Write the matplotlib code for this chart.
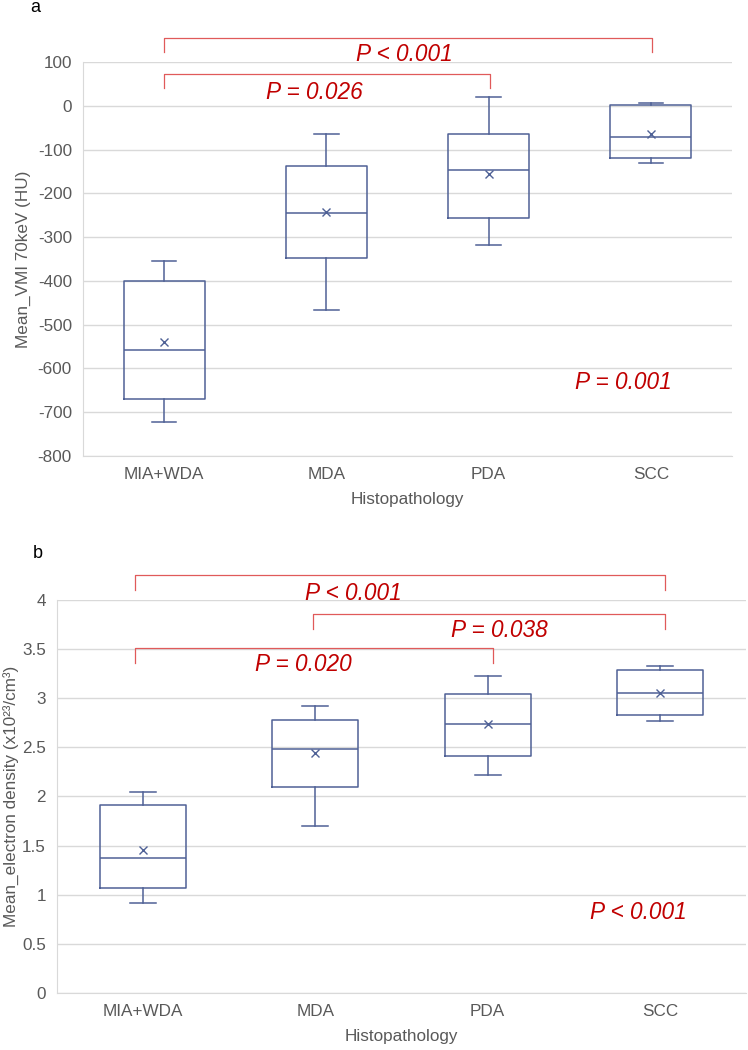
import matplotlib
matplotlib.use('Agg')
import matplotlib.pyplot as plt

plt.rcParams['font.family'] = ['Liberation Sans', 'DejaVu Sans']

groups = ['MIA+WDA', 'MDA', 'PDA', 'SCC']

# panel a: Mean_VMI 70keV (HU)
vmi_low = [-723, -467, -318, -131]
vmi_q1 = [-669, -348, -257, -120]
vmi_med = [-557, -245, -146, -72]
vmi_q3 = [-400, -137, -65, 2]
vmi_high = [-355, -65, 21, 6]
vmi_mean = [-539, -242, -155, -65]

# panel b: Mean electron density
ed_low = [0.92, 1.70, 2.22, 2.77]
ed_q1 = [1.07, 2.10, 2.41, 2.83]
ed_med = [1.37, 2.48, 2.74, 3.05]
ed_q3 = [1.91, 2.78, 3.04, 3.29]
ed_high = [2.05, 2.92, 3.23, 3.33]
ed_mean = [1.46, 2.44, 2.74, 3.05]

# brackets: (from group, to group, level, drop level, label, label x, label y)
vmi_pairs = [(0, 3, 155, 122, 'P < 0.001', 1.478, 118),
             (0, 2, 73, 40, 'P = 0.026', 0.924, 30)]
ed_pairs = [(0, 3, 4.25, 4.10, 'P < 0.001', 1.218, 4.07),
            (1, 3, 3.855, 3.70, 'P = 0.038', 2.066, 3.69),
            (0, 2, 3.51, 3.36, 'P = 0.020', 0.928, 3.34)]

box_col = '#4f6196'
red = '#c00000'
grid_col = '#d9d9d9'
tick_col = '#595959'
fs = 12.3


def make_stats(low, q1, med, q3, high, mean):
    stats = []
    for i in range(len(groups)):
        stats.append({'whislo': low[i], 'q1': q1[i], 'med': med[i], 'q3': q3[i],
                      'whishi': high[i], 'mean': mean[i], 'fliers': []})
    return stats


def draw_panel(ax, stats, ylim, yticks, yticklabels, ylabel, ylabel_x):
    ax.bxp(stats, positions=range(len(groups)), widths=0.5, showmeans=True,
           showfliers=False, capwidths=0.15,
           boxprops=dict(color=box_col, lw=1.1),
           medianprops=dict(color=box_col, lw=1.1),
           whiskerprops=dict(color=box_col, lw=1.1),
           capprops=dict(color=box_col, lw=1.1),
           meanprops=dict(marker='x', markeredgecolor=box_col, markersize=6, markeredgewidth=1.0))
    ax.set_xlim(-0.5, len(groups) - 0.5)
    ax.set_ylim(*ylim)
    ax.set_yticks(yticks)
    ax.set_yticklabels(yticklabels)
    ax.set_xticks(range(len(groups)))
    ax.set_xticklabels(groups)
    ax.tick_params(length=0, labelsize=fs, labelcolor=tick_col, pad=8)
    ax.grid(axis='y', color=grid_col, lw=1.0)
    ax.set_axisbelow(True)
    for s in ['top', 'right']:
        ax.spines[s].set_visible(False)
    for s in ['left', 'bottom']:
        ax.spines[s].set_color(grid_col)
    ax.set_xlabel('Histopathology', fontsize=fs, color=tick_col, labelpad=7)
    ax.set_ylabel(ylabel, fontsize=fs, color=tick_col)
    ax.yaxis.set_label_coords(ylabel_x, 0.5)


def draw_brackets(ax, pairs, xoff_left, xoff_right):
    for a, b, level, drop, label, tx, ty in pairs:
        xa = a + xoff_left[a]
        xb = b + xoff_right
        ax.plot([xa, xa, xb, xb], [drop, level, level, drop], color='#e05a5a',
                lw=0.9, clip_on=False)
        ax.text(tx, ty, label, color=red, fontsize=16.3, style='italic',
                ha='center', va='center', clip_on=False)


fig = plt.figure(figsize=(7.48, 10.5), dpi=100)

ax1 = fig.add_axes([0.111, 0.5657, 0.8676, 0.3753])
draw_panel(ax1, make_stats(vmi_low, vmi_q1, vmi_med, vmi_q3, vmi_high, vmi_mean),
           (-800, 100), range(-800, 101, 100), [str(v) for v in range(-800, 101, 100)],
           'Mean_VMI 70keV (HU)', -0.080)
draw_brackets(ax1, vmi_pairs, [0.0, 0.0, 0.0, 0.0], 0.01)
ax1.text(2.828, -631, 'P = 0.001', color=red, fontsize=16.3, style='italic',
         ha='center', va='center')

ax2 = fig.add_axes([0.0762, 0.0543, 0.9211, 0.3743])
ed_ticks = [0, 0.5, 1, 1.5, 2, 2.5, 3, 3.5, 4]
draw_panel(ax2, make_stats(ed_low, ed_q1, ed_med, ed_q3, ed_high, ed_mean),
           (0, 4), ed_ticks, ['0', '0.5', '1', '1.5', '2', '2.5', '3', '3.5', '4'],
           'Mean_electron density (x10²³/cm³)', -0.054)
draw_brackets(ax2, ed_pairs, [-0.047, -0.014, 0.0, 0.0], 0.03)
ax2.text(2.873, 0.82, 'P < 0.001', color=red, fontsize=16.3, style='italic',
         ha='center', va='center')

fig.text(30 / 748, 1 - 8 / 1050, 'a', fontsize=13, ha='left', va='center')
fig.text(33 / 748, 1 - 553 / 1050, 'b', fontsize=13, ha='left', va='center')

fig.savefig('out.png', dpi=100)
